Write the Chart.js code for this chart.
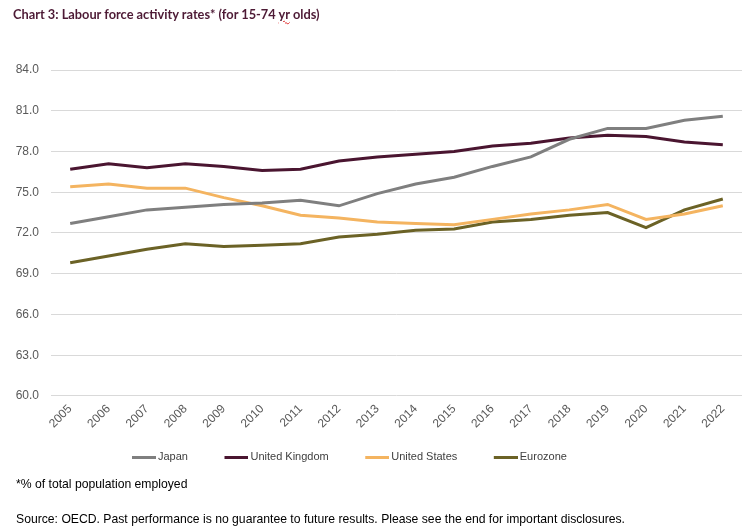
<!DOCTYPE html>
<html>
<head>
<meta charset="utf-8">
<script src="https://cdn.jsdelivr.net/npm/chart.js@4/dist/chart.umd.min.js"></script>
<style>
  html, body { margin: 0; padding: 0; background: #fff; }
  #wrap { position: relative; width: 752px; height: 532px; overflow: hidden; }
  #c { position: absolute; left: 0; top: 0; }
  .title { position: absolute; left: 13px; top: 6px; font-family: Lato, "Open Sans", sans-serif; font-weight: bold; font-size: 12.8px; color: #4d1a35; }
  .yr { text-decoration: underline wavy #e03030; text-decoration-thickness: 1px; text-underline-offset: 1px; }
  .note { position: absolute; left: 16px; font-family: "Liberation Sans", Arial, sans-serif; font-size: 12.2px; color: #000; }
</style>
</head>
<body>
<div id="wrap">
  <canvas id="c" width="752" height="532"></canvas>
  <div class="title">Chart 3: Labour force activity rates* (for 15-74 <span class="yr">yr</span> olds)</div>
  <div class="note" style="top:477px">*% of total population employed</div>
  <div class="note" style="top:512px">Source: OECD. Past performance is no guarantee to future results. Please see the end for important disclosures.</div>
</div>
<script>
const years = ["2005","2006","2007","2008","2009","2010","2011","2012","2013","2014","2015","2016","2017","2018","2019","2020","2021","2022"];
const japan = [72.7,73.2,73.7,73.9,74.1,74.2,74.4,74.0,74.9,75.6,76.1,76.9,77.6,78.9,79.7,79.7,80.3,80.6];
const unitedKingdom = [76.7,77.1,76.8,77.1,76.9,76.6,76.7,77.3,77.6,77.8,78.0,78.4,78.6,79.0,79.2,79.1,78.7,78.5];
const unitedStates = [75.4,75.6,75.3,75.3,74.6,74.0,73.3,73.1,72.8,72.7,72.6,73.0,73.4,73.7,74.1,73.0,73.4,74.0];
const eurozone = [69.8,70.3,70.8,71.2,71.0,71.1,71.2,71.7,71.9,72.2,72.3,72.8,73.0,73.3,73.5,72.4,73.7,74.5];
const yTicks = [60,63,66,69,72,75,78,81,84];

const mk = (label, data, color) => ({
  label, data, borderColor: color, backgroundColor: color,
  borderWidth: 3, pointRadius: 0, tension: 0, fill: false
});

// legend swatch: a short line that sits close to its label
function swatch(color) {
  const cv = document.createElement('canvas');
  cv.width = 31; cv.height = 3;
  const g = cv.getContext('2d');
  g.fillStyle = color;
  g.fillRect(7, 0, 24, 3);
  return cv;
}

const LEG_PAD = 33;
const legendPlace = {
  id: 'legendPlace',
  afterLayout(chart) {
    const l = chart.legend;
    if (!l) return;
    const h = l.height;
    l.left = 95.5; l.right = 752;
    l.top = 457 - LEG_PAD - 5.5; l.bottom = l.top + h;
  }
};

new Chart(document.getElementById('c'), {
  type: 'line',
  data: {
    labels: years,
    datasets: [
      mk('Japan', japan, '#7f7f7f'),
      mk('United Kingdom', unitedKingdom, '#4a1530'),
      mk('United States', unitedStates, '#f4b460'),
      mk('Eurozone', eurozone, '#6b6226')
    ]
  },
  options: {
    responsive: false,
    animation: false,
    events: [],
    layout: { padding: { left: 14, right: 10, top: 70, bottom: 41 } },
    plugins: {
      title: { display: false },
      tooltip: { enabled: false },
      legend: {
        position: 'bottom',
        align: 'start',
        labels: {
          usePointStyle: true,
          pointStyleWidth: 24,
          padding: LEG_PAD,
          color: '#404040',
          font: { family: "'Liberation Sans', Arial, sans-serif", size: 11 },
          generateLabels(chart) {
            const items = Chart.defaults.plugins.legend.labels.generateLabels(chart);
            items.forEach(it => { it.pointStyle = swatch(chart.data.datasets[it.datasetIndex].borderColor); });
            return items;
          }
        }
      }
    },
    scales: {
      x: {
        offset: true,
        grid: { display: false, drawTicks: false },
        border: { display: false },
        ticks: {
          minRotation: 45, maxRotation: 45, padding: 6,
          color: '#595959',
          font: { family: "'Liberation Sans', Arial, sans-serif", size: 12 }
        }
      },
      y: {
        min: 60, max: 84,
        afterBuildTicks(scale) { scale.ticks = yTicks.map(v => ({ value: v })); },
        afterFit(scale) { scale.width = 37; },
        grid: { color: '#d9d9d9', lineWidth: 1, drawTicks: false },
        border: { display: false },
        ticks: {
          padding: 12,
          color: '#595959',
          font: { family: "'Liberation Sans', Arial, sans-serif", size: 12 },
          callback: v => Number(v).toFixed(1)
        }
      }
    }
  },
  plugins: [legendPlace]
});
</script>
</body>
</html>
